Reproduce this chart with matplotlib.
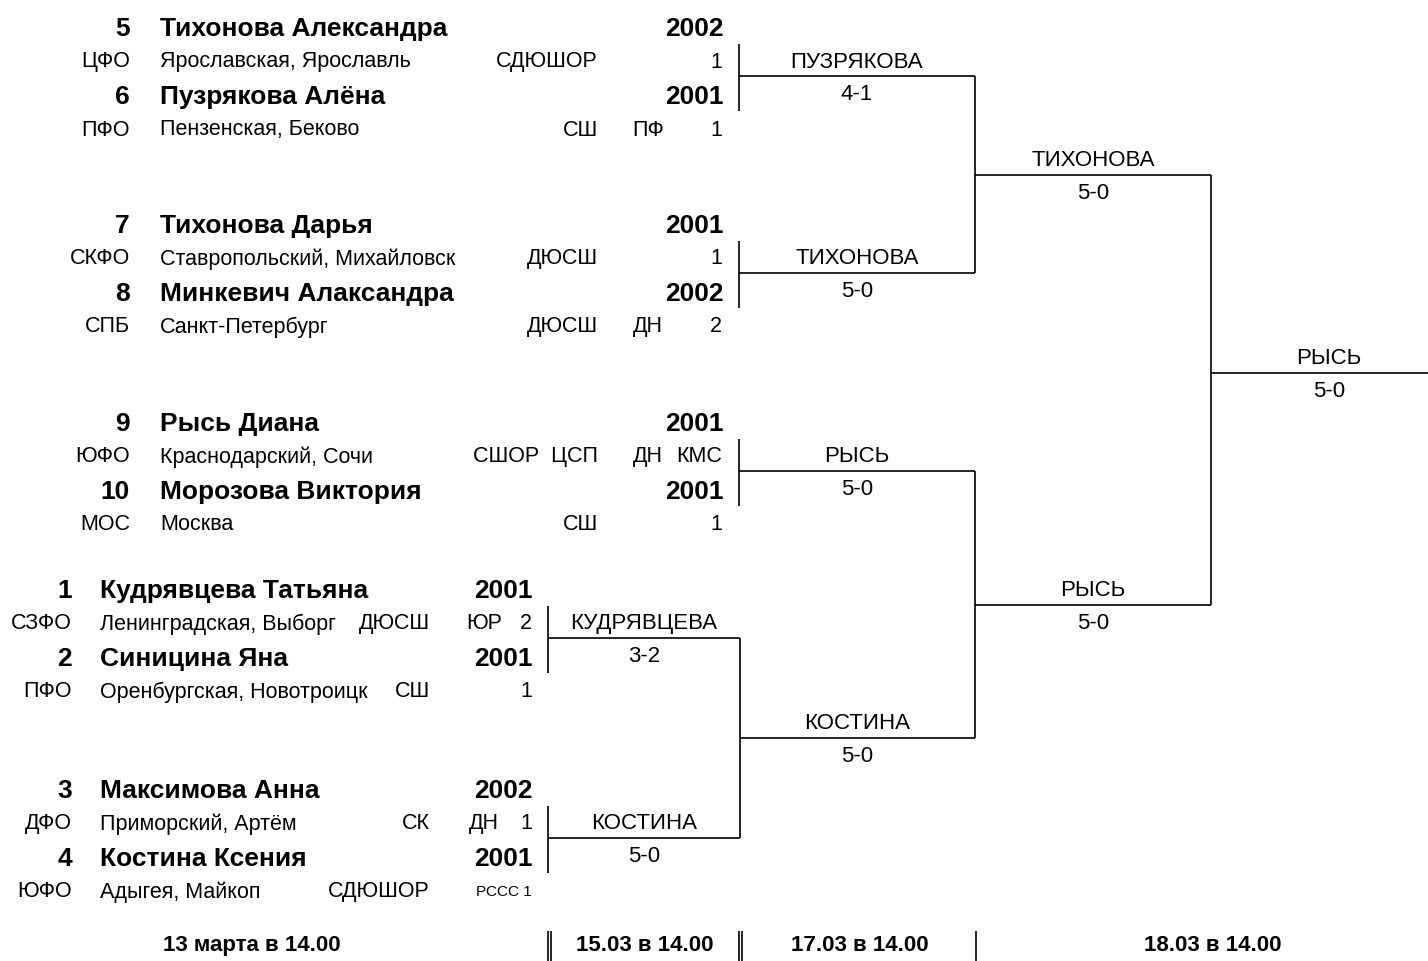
import matplotlib
matplotlib.use("Agg")
import matplotlib.pyplot as plt

plt.rcParams['font.family'] = ['Liberation Sans', 'DejaVu Sans']

# participants, in bracket order (top to bottom)
seeds = ["5", "6", "7", "8", "9", "10", "1", "2", "3", "4"]
names = ["Тихонова Александра", "Пузрякова Алёна", "Тихонова Дарья", "Минкевич Алаксандра",
         "Рысь Диана", "Морозова Виктория", "Кудрявцева Татьяна", "Синицина Яна",
         "Максимова Анна", "Костина Ксения"]
years = ["2002", "2001", "2001", "2002", "2001", "2001", "2001", "2001", "2002", "2001"]
districts = ["ЦФО", "ПФО", "СКФО", "СПБ", "ЮФО", "МОС", "СЗФО", "ПФО", "ДФО", "ЮФО"]
cities = ["Ярославская, Ярославль", "Пензенская, Беково", "Ставропольский, Михайловск",
          "Санкт-Петербург", "Краснодарский, Сочи", "Москва", "Ленинградская, Выборг",
          "Оренбургская, Новотроицк", "Приморский, Артём", "Адыгея, Майкоп"]
clubs = ["СДЮШОР", "СШ", "ДЮСШ", "ДЮСШ", "СШОР  ЦСП", "СШ", "ДЮСШ", "СШ", "СК", "СДЮШОР"]
titles = ["", "ПФ", "", "ДН", "ДН", "", "ЮР", "", "ДН", ""]
ranks = ["1", "1", "1", "2", "КМС", "1", "2", "1", "1", "РССС 1"]

# results
r1_winners = ["ПУЗРЯКОВА", "ТИХОНОВА", "РЫСЬ", "КУДРЯВЦЕВА", "КОСТИНА"]
r1_scores = ["4-1", "5-0", "5-0", "3-2", "5-0"]
qf_winner, qf_score = "КОСТИНА", "5-0"
sf_winners = ["ТИХОНОВА", "РЫСЬ"]
sf_scores = ["5-0", "5-0"]
final_winner, final_score = "РЫСЬ", "5-0"

dates = ["13 марта в 14.00", "15.03 в 14.00", "17.03 в 14.00", "18.03 в 14.00"]

W, H = 1428, 962
fig = plt.figure(figsize=(W / 100, H / 100), dpi=100)
ax = fig.add_axes([0, 0, 1, 1])
ax.set_xlim(0, W)
ax.set_ylim(H, 0)
ax.axis("off")

LW = 1.2
NAME_FS = 19
INFO_FS = 15.5
LAB_FS = 16
DY = 2  # small nudge so caps sit where the reference has them


def txt(x, y, s, fs, ha="left", bold=False):
    ax.text(x, y + DY, s, fontsize=fs, ha=ha, va="center",
            fontweight="bold" if bold else "normal")


def line(x, y):
    ax.plot(x, y, color="black", lw=LW, solid_capstyle="butt")


def result(x0, x1, y, winner, score, xm=None):
    line([x0, x1], [y, y])
    if xm is None:
        xm = (x0 + x1) / 2
    txt(xm, y - 17, winner, LAB_FS, ha="center")
    txt(xm, y + 16, score, LAB_FS, ha="center")


# pair blocks: top y, and left column layout
pair_tops = [27, 224, 422, 589, 789]
top_cols = dict(seed=130, name=160, club=598, title=648, rank=722, year=724, bx=739, nx=975)
bot_cols = dict(seed=72, name=100, club=430, title=484, rank=532, year=533, bx=548, nx=740)
offs = [0, 33, 68, 101]

match_y = []
for p, y0 in enumerate(pair_tops):
    c = top_cols if p < 3 else bot_cols
    for k in range(2):
        i = 2 * p + k
        yn = y0 + offs[2 * k]
        yi = y0 + offs[2 * k + 1]
        txt(c["seed"], yn, seeds[i], NAME_FS, ha="right", bold=True)
        txt(c["name"], yn, names[i], NAME_FS, bold=True)
        txt(c["year"], yn, years[i], NAME_FS, ha="right", bold=True)
        txt(c["seed"], yi, districts[i], INFO_FS, ha="right")
        txt(c["name"], yi, cities[i], INFO_FS)
        txt(c["club"], yi, clubs[i], INFO_FS, ha="right")
        txt(c["title"], yi, titles[i], INFO_FS, ha="center")
        rfs = INFO_FS if len(ranks[i]) < 4 else 11
        txt(c["rank"], yi, ranks[i], rfs, ha="right")
    # first-round bracket
    line([c["bx"], c["bx"]], [y0 + 18, y0 + 85])
    ym = y0 + 50
    result(c["bx"], c["nx"], ym, r1_winners[p], r1_scores[p])
    match_y.append(ym)

# bottom quarter-final
y_qf = (match_y[3] + match_y[4]) / 2
line([740, 740], [match_y[3], match_y[4]])
result(740, 975, y_qf, qf_winner, qf_score)

# semi-finals
sf_pairs = [(match_y[0], match_y[1]), (match_y[2], y_qf)]
sf_y = []
for j, (ya, yb) in enumerate(sf_pairs):
    line([975, 975], [ya, yb])
    ys = (ya + yb) / 2
    result(975, 1211, ys, sf_winners[j], sf_scores[j])
    sf_y.append(ys)

# final
line([1211, 1211], [sf_y[0], sf_y[1]])
result(1211, 1428, 374, final_winner, final_score, xm=1329)

# dates footer
date_x = [252, 645, 860, 1213]
for x, d in zip(date_x, dates):
    txt(x, 944, d, 16, ha="center", bold=True)
for x in [548, 551, 739, 742, 976]:
    line([x, x], [932, 962])

fig.savefig("out.png", dpi=100, facecolor="white")
